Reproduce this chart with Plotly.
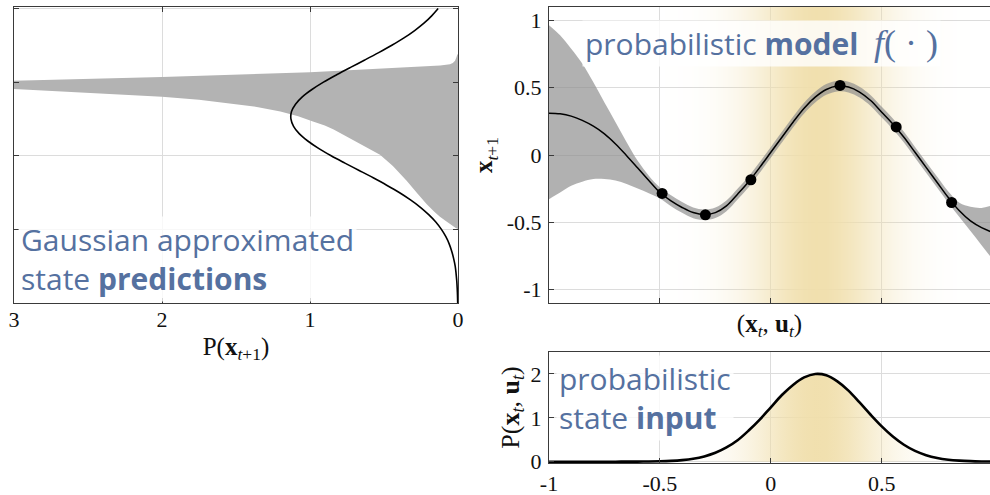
import plotly.graph_objects as go

# ---------------- data ----------------
# GP model (top right): input grid, posterior mean and band
gp_x = [-1.00, -0.95, -0.90, -0.85, -0.80, -0.75, -0.70, -0.65, -0.60, -0.55,
        -0.50, -0.45, -0.40, -0.35, -0.30, -0.25, -0.20, -0.15, -0.10, -0.05,
        0.00, 0.05, 0.10, 0.15, 0.20, 0.25, 0.30, 0.35, 0.40, 0.45,
        0.50, 0.55, 0.60, 0.65, 0.70, 0.75, 0.80, 0.85, 0.90, 0.95, 1.00]
gp_mean = [0.311, 0.306, 0.289, 0.257, 0.214, 0.157, 0.082, -0.005, -0.097, -0.19,
           -0.279, -0.341, -0.39, -0.428, -0.443, -0.428, -0.378, -0.291, -0.199, -0.092,
           0.02, 0.132, 0.244, 0.348, 0.43, 0.487, 0.512, 0.505, 0.468, 0.405,
           0.318, 0.231, 0.132, 0.02, -0.092, -0.204, -0.316, -0.415, -0.49, -0.54, -0.575]
gp_upper = [0.965, 0.89, 0.79, 0.68, 0.54, 0.39, 0.244, 0.095, -0.043, -0.154,
            -0.241, -0.30, -0.35, -0.39, -0.405, -0.39, -0.338, -0.251, -0.159, -0.052,
            0.06, 0.172, 0.284, 0.388, 0.47, 0.527, 0.552, 0.545, 0.508, 0.445,
            0.358, 0.271, 0.172, 0.06, -0.052, -0.162, -0.272, -0.355, -0.385, -0.393, -0.373]
gp_lower = [-0.328, -0.279, -0.229, -0.199, -0.179, -0.179, -0.19, -0.216, -0.249, -0.284,
            -0.323, -0.381, -0.43, -0.47, -0.483, -0.468, -0.418, -0.331, -0.239, -0.132,
            -0.02, 0.092, 0.204, 0.308, 0.39, 0.447, 0.472, 0.465, 0.428, 0.365,
            0.278, 0.191, 0.092, -0.02, -0.132, -0.244, -0.356, -0.46, -0.565, -0.67, -0.776]
obs_x = [-0.49, -0.295, -0.09, 0.312, 0.565, 0.815]
obs_y = [-0.286, -0.445, -0.184, 0.517, 0.209, -0.353]

# probabilistic state input (bottom right)
in_x = gp_x
in_dens = [0.0, 0.0, 0.0, 0.0, 0.0, 0.0, 0.0002, 0.0007, 0.0017, 0.0039,
           0.0086, 0.018, 0.036, 0.067, 0.12, 0.203, 0.325, 0.49, 0.71, 0.96,
           1.24, 1.52, 1.75, 1.92, 2.0, 1.97, 1.83, 1.62, 1.35, 1.07,
           0.805, 0.573, 0.386, 0.246, 0.149, 0.085, 0.046, 0.024, 0.0116, 0.0054, 0.0024]

# Gaussian approximated prediction (left)
pred_y = gp_x
pred_dens = [0.002, 0.0034, 0.0054, 0.0084, 0.013, 0.019, 0.029, 0.042, 0.059, 0.082,
             0.112, 0.150, 0.198, 0.254, 0.321, 0.397, 0.482, 0.573, 0.668, 0.764,
             0.857, 0.942, 1.015, 1.073, 1.111, 1.129, 1.125, 1.098, 1.052, 0.987,
             0.909, 0.820, 0.726, 0.630, 0.536, 0.447, 0.365, 0.293, 0.230, 0.178, 0.134]
# true (non-Gaussian) predictive region, outline (upper edge then lower edge)
region_x = [0, 0.005, 0.01, 0.02, 0.035, 0.054, 0.12, 0.257, 0.527, 1.0, 2.0, 3.0,
            3.0, 2.5, 2.0, 1.75, 1.52, 1.35, 1.2, 1.08, 0.98, 0.9, 0.84, 0.77, 0.70, 0.62,
            0.527, 0.44, 0.347, 0.28, 0.211, 0.16, 0.122, 0.08, 0.05, 0.015, 0]
region_y = [0.69, 0.685, 0.67, 0.645, 0.63, 0.622, 0.612, 0.605, 0.592, 0.567, 0.535, 0.51,
            0.454, 0.428, 0.40, 0.38, 0.354, 0.33, 0.301, 0.268, 0.233, 0.205, 0.178, 0.14, 0.105, 0.06,
            0.007, -0.07, -0.17, -0.25, -0.33, -0.38, -0.415, -0.445, -0.468, -0.49, -0.497]

# tick labels
left_x_ticks = [3, 2, 1, 0]
right_y_ticks = [-1, -0.5, 0, 0.5, 1]
right_y_text = ['-1', '-0.5', '0', '0.5', '1']
bottom_x_ticks = [-1, -0.5, 0, 0.5]
bottom_x_text = ['-1', '-0.5', '0', '0.5']
bottom_y_ticks = [0, 1, 2]

# ---------------- styling ----------------
W, H = 990, 495
BLUE = '#5571a0'
SERIF = 'Liberation Serif'
SANS = 'Open Sans'
YEL = (240, 222, 170)

fig = go.Figure()

# left panel
fig.add_trace(go.Scatter(x=region_x, y=region_y, fill='toself', fillcolor='#b3b3b3',
                         line=dict(width=0), mode='lines',
                         hoverinfo='skip', xaxis='x', yaxis='y'))
fig.add_trace(go.Scatter(x=pred_dens, y=pred_y, mode='lines',
                         line=dict(color='black', width=1.6, shape='spline'),
                         xaxis='x', yaxis='y'))

# top-right: yellow background following the input density
peak = max(in_dens)
fig.add_trace(go.Heatmap(x=in_x, y=[-1.1, 1.1], z=[in_dens, in_dens], zmin=0, zmax=peak,
                         zsmooth='best', showscale=False, hoverinfo='skip',
                         colorscale=[[0, 'rgba(%d,%d,%d,0)' % YEL], [1, 'rgba(%d,%d,%d,0.95)' % YEL]],
                         xaxis='x2', yaxis='y2'))
fig.add_trace(go.Scatter(x=gp_x, y=gp_upper, mode='lines', line=dict(width=0, shape='spline'),
                         hoverinfo='skip', xaxis='x2', yaxis='y2'))
fig.add_trace(go.Scatter(x=gp_x, y=gp_lower, mode='lines', line=dict(width=0, shape='spline'),
                         fill='tonexty', fillcolor='rgba(140,140,140,0.68)', hoverinfo='skip',
                         xaxis='x2', yaxis='y2'))
fig.add_trace(go.Scatter(x=gp_x, y=gp_mean, mode='lines',
                         line=dict(color='black', width=1.5, shape='spline'),
                         xaxis='x2', yaxis='y2'))
fig.add_trace(go.Scatter(x=obs_x, y=obs_y, mode='markers', marker=dict(color='black', size=11),
                         xaxis='x2', yaxis='y2'))

# bottom-right: input density with gradient fill
x0, x1 = in_x[0], in_x[-1]
grad = [[(x - x0) / (x1 - x0), 'rgba(%d,%d,%d,%.3f)' % (YEL + (0.95 * d / peak,))]
        for x, d in zip(in_x, in_dens)]
fig.add_trace(go.Scatter(x=in_x, y=in_dens, mode='lines',
                         line=dict(color='black', width=2.6, shape='spline'),
                         fill='tozeroy', fillgradient=dict(type='horizontal', colorscale=grad),
                         xaxis='x3', yaxis='y3'))

axis_common = dict(showline=True, linecolor='#3a3a3a', linewidth=1.2, ticks='inside', ticklen=5,
                   tickcolor='#3a3a3a', showgrid=True, gridcolor='#dcdcdc', gridwidth=1,
                   zeroline=False, automargin=False,
                   tickfont=dict(family=SERIF, size=22, color='#111111'))
title_font = dict(family=SERIF, size=25, color='#111111')

L_dom = [14 / W, 458 / W]
R_dom = [549 / W, 1.0]
TOP_dom = [1 - 303 / H, 1 - 7 / H]
BOT_dom = [1 - 463 / H, 1 - 352 / H]

fig.update_layout(
    width=W, height=H, margin=dict(l=0, r=0, t=0, b=0),
    paper_bgcolor='white', plot_bgcolor='white', showlegend=False,
    xaxis=dict(axis_common, domain=L_dom, range=[3, 0], tickvals=left_x_ticks, mirror='ticks',
               ticklabelstandoff=-4,
               title=dict(text='P(<b>x</b><sub><i>t</i>+1</sub>)', font=title_font, standoff=6)),
    yaxis=dict(axis_common, domain=TOP_dom, range=[-1, 1.01], tickvals=[-1, -0.5, 0, 0.5, 1],
               showticklabels=False, mirror='ticks'),
    xaxis2=dict(axis_common, domain=R_dom, range=[-1, 0.988], tickvals=bottom_x_ticks,
                showticklabels=False, mirror=True, anchor='y2',
                title=dict(text='(<b>x</b><sub><i>t</i></sub>, <b>u</b><sub><i>t</i></sub>)',
                           font=title_font, standoff=11)),
    yaxis2=dict(axis_common, domain=TOP_dom, range=[-1.1, 1.1], tickvals=right_y_ticks,
                ticktext=right_y_text, anchor='x2', ticklabelstandoff=2,
                title=dict(text='<b>x</b><sub><i>t</i>+1</sub>', font=title_font, standoff=6)),
    xaxis3=dict(axis_common, domain=R_dom, range=[-1, 0.988], tickvals=bottom_x_ticks,
                ticktext=bottom_x_text, mirror=True, anchor='y3', ticklabelstandoff=0),
    yaxis3=dict(axis_common, domain=BOT_dom, range=[-0.03, 2.5], tickvals=bottom_y_ticks,
                anchor='x3', ticklabelstandoff=2,
                title=dict(text='P(<b>x</b><sub><i>t</i></sub>, <b>u</b><sub><i>t</i></sub>)',
                           font=dict(title_font, size=26), standoff=3)),
)

ann_font = dict(family=SANS, size=30, color=BLUE)
bg = 'rgba(255,255,255,0.8)'


def label(text, px, py_center):
    fig.add_annotation(text=text, xref='paper', yref='paper', x=px / W, y=1 - py_center / H,
                       xanchor='left', yanchor='middle', align='left', showarrow=False,
                       font=ann_font, bgcolor=bg, borderpad=2)


label('Gaussian approximated<br>state <b>predictions</b>', 18, 259)
label('probabilistic <b>model</b>&nbsp;&nbsp;<span style="font-family:Liberation Serif;font-size:36px">'
      '<i>f</i>( · )</span>', 582, 43)
label('probabilistic<br>state <b>input</b>', 556, 398)

fig.write_html('out.html')
